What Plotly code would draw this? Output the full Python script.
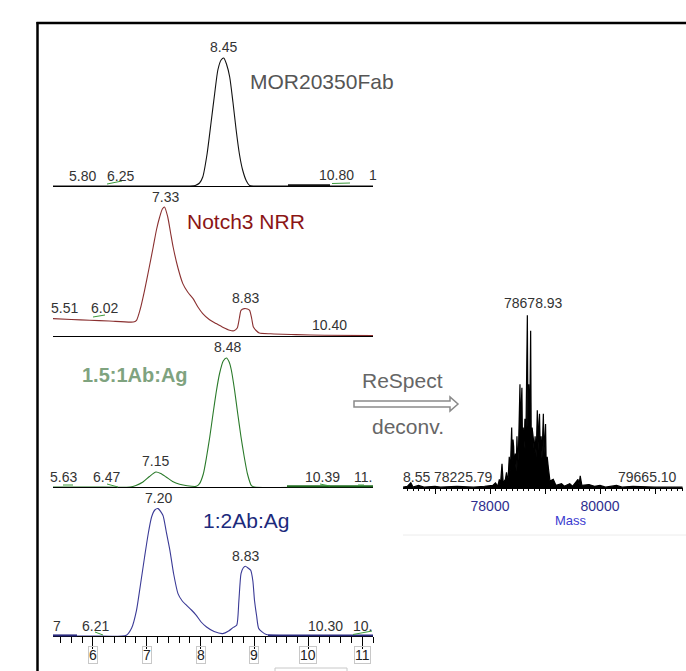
import plotly.graph_objects as go

W, H = 686, 671

def px(x):
    return x / W

def py(y):
    return 1 - y / H

# ---------------- data ----------------
# Retention time (min) and UV signal (arbitrary units) for each chromatogram
t_mor = [5.26, 6.0, 7.0, 7.80, 7.90, 7.98, 8.04, 8.12, 8.20, 8.26, 8.32, 8.38, 8.43, 8.48,
         8.54, 8.60, 8.66, 8.72, 8.78, 8.85, 8.91, 9.0, 10.0, 11.2]
a_mor = [0, 0, 0, 0, 0.5, 3, 9, 32, 66, 92, 116, 126, 128, 122,
         109, 84, 56, 32, 16, 5, 0.5, 0, 0, 0]

t_notch = [5.26, 5.6, 5.94, 6.3, 6.75, 6.81, 6.88, 6.96, 7.04, 7.12, 7.18, 7.24, 7.29, 7.33,
           7.39, 7.44, 7.49, 7.58, 7.67, 7.76, 7.86, 7.95, 8.04, 8.16, 8.29, 8.42, 8.54, 8.62,
           8.68, 8.72, 8.75, 8.81, 8.87, 8.91, 8.95, 8.98, 9.04, 9.09, 9.3, 9.77, 10.3, 11.2]
a_notch = [17.4, 16.5, 15.7, 15.0, 14, 15.7, 27, 45.7, 67, 89, 106, 119, 127, 129,
           119, 104, 89, 68, 52.4, 44, 37.4, 29, 22.4, 16.5, 12.4, 8.5, 5.7, 5.3,
           8, 18, 25.7, 27.4, 27, 25.7, 17, 9, 5, 3, 2.2, 1.4, 0.8, 0.4]

t_15 = [5.26, 6.0, 6.69, 6.80, 6.93, 7.05, 7.17, 7.26, 7.36, 7.48, 7.61, 7.75, 7.92, 7.98,
        8.05, 8.11, 8.17, 8.23, 8.29, 8.35, 8.42, 8.48, 8.53, 8.57, 8.63, 8.69, 8.75, 8.81,
        8.87, 8.94, 9.0, 10.0, 11.2]
a_15 = [0, 0, 0, 1.5, 5, 10.5, 15, 13.5, 10, 5.5, 2.7, 1.2, 0.7, 3.4,
        13, 30, 50, 73, 95, 113, 126, 129, 125, 117, 97, 73, 50, 30,
        13, 1.7, 0, 0, 0]

t_12 = [5.26, 6.0, 6.62, 6.72, 6.81, 6.88, 6.96, 7.03, 7.09, 7.15, 7.21, 7.30, 7.36, 7.43,
        7.50, 7.58, 7.66, 7.74, 7.83, 7.92, 8.01, 8.11, 8.25, 8.41, 8.52, 8.60, 8.67, 8.71,
        8.75, 8.79, 8.83, 8.88, 8.93, 8.97, 9.0, 9.04, 9.08, 9.22, 10.0, 11.2]
a_12 = [0, 0, 0.7, 8, 25.7, 50, 79, 103, 119, 126, 127.4, 120.7, 105, 85.7,
        62, 42.4, 35, 30.7, 26, 20.7, 14, 9, 4.5, 2.4, 5, 8.4, 10.7, 35,
        62.4, 68, 69.7, 68, 65.7, 55, 35.7, 20, 7.4, 1.4, 0.5, 0]

time_ticks = [6, 7, 8, 9, 10, 11]

# Deconvoluted mass spectrum (Da, relative intensity %)
mass = [76420, 76500, 76560, 76600, 76700, 76800, 77000, 77100, 77400, 77700, 77900,
        78050, 78100, 78140, 78170, 78190, 78218, 78240, 78280, 78300, 78320,
        78330, 78350, 78370, 78394, 78405, 78418, 78430, 78442, 78460, 78475, 78490,
        78505, 78520, 78545, 78555, 78565, 78580, 78592, 78605, 78620, 78635, 78650,
        78665, 78679, 78690, 78705, 78720, 78739, 78750, 78765, 78790, 78805, 78820,
        78840, 78860, 78875, 78890, 78900, 78915, 78930, 78945, 78960, 78970, 78982,
        78995, 79010, 79022, 79040, 79060, 79075, 79090, 79150, 79200, 79300,
        79350, 79450, 79500, 79600, 79620, 79640, 79670, 79800, 79900, 80000, 80100,
        80300, 80400, 80600, 81000, 81500]
intensity = [0.5, 1, 3, 0.5, 1.5, 0.5, 1, 0.5, 1, 0.5, 1,
             1.5, 3, 1, 5, 2, 14, 3, 5, 9, 4,
             6, 18, 10, 35, 15, 28, 24, 12, 20, 10, 30,
             12, 25, 60, 30, 45, 58, 20, 35, 23, 40, 22,
             50, 100, 35, 60, 30, 91, 25, 35, 28, 20, 30,
             18, 45, 22, 38, 43, 20, 30, 17, 28, 43, 20,
             30, 37, 12, 18, 12, 6, 4, 5, 1.5, 2.5,
             1, 2.5, 1, 5, 2, 7, 1.5, 2, 1, 1.5, 0.5,
             1.5, 0.5, 1, 0.5, 0.5]
mass_ticks = [77000, 78000, 79000, 80000, 81000]
mass_ticktext = ["", "78000", "", "80000", ""]

# ---------------- figure ----------------
fig = go.Figure()

panels = [
    (t_mor, a_mor, "#111111", 186, 46),
    (t_notch, a_notch, "#8a3030", 336, 196),
    (t_15, a_15, "#2a7a2a", 487, 347),
    (t_12, a_12, "#3a3a96", 636, 496),
]

for i, (t, a, col, ybot, ytop) in enumerate(panels, start=1):
    sx = "" if i == 1 else str(i)
    fig.add_trace(go.Scatter(x=t, y=a, mode="lines", xaxis="x" + sx, yaxis="y" + sx,
                             line=dict(color=col, width=1.1, shape="spline", smoothing=0.6),
                             hoverinfo="skip"))
    xa = dict(domain=[px(53), px(373)], range=[5.26, 11.2], anchor="y" + sx,
              showline=True, linecolor="black", linewidth=1, ticks="",
              showticklabels=False, showgrid=False, zeroline=False)
    if i == 4:
        xa.update(ticks="outside", tickmode="array", tickvals=time_ticks, ticklen=12,
                  tickcolor="black", tickwidth=1,
                  minor=dict(tickmode="linear", tick0=5.4, dtick=0.2, ticks="outside",
                             ticklen=6, tickcolor="black", tickwidth=1, showgrid=False))
    ya = dict(domain=[py(ybot), py(ytop)], range=[0, 140], visible=False, anchor="x" + sx)
    fig.update_layout(**{"xaxis" + sx: xa, "yaxis" + sx: ya})

# mass spectrum
fig.add_trace(go.Scatter(x=mass, y=intensity, mode="lines", xaxis="x5", yaxis="y5",
                         line=dict(color="black", width=1.2), fill="tozeroy",
                         fillcolor="black", hoverinfo="skip"))
fig.update_layout(
    xaxis5=dict(domain=[px(403), px(683)], range=[76418, 81509], anchor="y5",
                showline=True, linecolor="black", linewidth=1, ticks="outside",
                tickmode="array", tickvals=mass_ticks, ticktext=mass_ticktext,
                ticklen=5, tickcolor="black", showgrid=False, zeroline=False,
                tickfont=dict(family="Arial, Liberation Sans", size=14, color="#2e2e8e"),
                minor=dict(tickmode="linear", tick0=76500, dtick=100, ticks="outside",
                           ticklen=2, tickcolor="black", showgrid=False)),
    yaxis5=dict(domain=[py(488), py(310)], range=[0, 103], visible=False, anchor="x5"),
)

FONT = "Arial, Liberation Sans, sans-serif"
ann = []

def lab(text, x, y, size=14, color="#333333", xanchor="center", bold=False, **kw):
    d = dict(text=("<b>%s</b>" % text) if bold else text, x=px(x), y=py(y),
             xref="paper", yref="paper", showarrow=False, xanchor=xanchor, yanchor="middle",
             font=dict(family=FONT, size=size, color=color))
    d.update(kw)
    ann.append(d)

# panel 1
lab("5.80", 82, 176)
lab("6.25", 120, 176)
lab("8.45", 224, 47)
lab("10.80", 336, 175)
lab("1", 373, 175)
lab("MOR20350Fab", 248, 81, size=21, color="#555555", xanchor="left")
# panel 2
lab("7.33", 165, 197)
lab("5.51", 80, 308, xanchor="right")
lab("6.02", 104, 308)
lab("8.83", 245, 298)
lab("10.40", 329, 325)
lab("Notch3 NRR", 185, 221, size=21, color="#8b1515", xanchor="left")
# panel 3
lab("8.48", 227, 347)
lab("7.15", 155, 461)
lab("5.63", 79, 477, xanchor="right")
lab("6.47", 106, 477)
lab("10.39", 322, 477)
lab("11.", 352, 477, xanchor="left")
lab("1.5:1Ab:Ag", 135, 375, size=20, color="#7fa37f", bold=True)
# panel 4
lab("7.20", 158, 498)
lab("8.83", 245, 556)
lab("7", 57, 626)
lab("6.21", 95, 626)
lab("10.30", 325, 626)
lab("10.", 362, 626)
lab("1:2Ab:Ag", 246, 520, size=21, color="#1c2a7c")
# time axis labels in boxes
for tv in time_ticks:
    ann.append(dict(text=str(tv), x=tv, y=py(655), xref="x4", yref="paper",
                    showarrow=False, xanchor="center", yanchor="middle",
                    font=dict(family=FONT, size=14, color="#222222"),
                    bordercolor="#c8c8c8", borderwidth=1, borderpad=0))
# arrow texts
lab("ReSpect", 402, 380, size=21, color="#666666")
lab("deconv.", 408, 426, size=21, color="#666666")
# spectrum labels
lab("78678.93", 533, 303)
lab("78225.79", 464, 477)
lab("79665.10", 647, 477)
lab("8.55", 401, 477, xanchor="left")
lab("Mass", 571, 520, size=13, color="#3a3ad0")

fig.update_layout(annotations=ann)

def seg(x0, y0, x1, y1, color, width):
    return dict(type="line", x0=px(x0), x1=px(x1), y0=py(y0), y1=py(y1), xref="paper",
                yref="paper", line=dict(color=color, width=width))

# arrow shape
pts = [(354, 401), (450, 401), (450, 397), (458, 404), (450, 411), (450, 407), (354, 407)]
path = "M " + " L ".join("%.5f,%.5f" % (px(x), py(y)) for x, y in pts) + " Z"
G = "#3c9a3c"
shapes = [
    dict(type="path", path=path, xref="paper", yref="paper",
         line=dict(color="#8a8a8a", width=1.5), fillcolor="white"),
    seg(37.5, 22, 37.5, 672, "black", 2.5),
    seg(36.5, 23, 687, 23, "black", 2.5),
    seg(403, 535, 686, 535, "#ececec", 1),
    # partial "Time (min)" box at the bottom edge
    seg(275, 668, 347, 668, "#c8c8c8", 1),
    seg(275, 668, 275, 672, "#c8c8c8", 1),
    seg(347, 668, 347, 672, "#c8c8c8", 1),
    # integration baseline segments
    seg(288, 185.3, 330, 185.3, "#111111", 2),
    seg(287, 486.3, 373, 486.3, "#1f6a1f", 2),
    seg(53, 635.4, 77, 635.4, "#2a2a80", 2),
    seg(268, 635.4, 373, 635.4, "#2a2a80", 1.6),
    # integration marks (green)
    seg(107, 184, 122, 181, G, 1),
    seg(332, 183.5, 350, 183, G, 1),
    seg(93, 317, 105, 315, G, 1),
    seg(63, 485, 73, 485, G, 1),
    seg(107, 484, 118, 487, G, 1),
    seg(320, 484, 330, 486, G, 1),
    seg(358, 485, 364, 485, G, 1),
    seg(95, 632, 103, 635, G, 1),
    seg(353, 634.5, 372, 631, G, 1),
]
fig.update_layout(shapes=shapes)

fig.update_layout(width=W, height=H, margin=dict(l=0, r=0, t=0, b=0),
                  paper_bgcolor="white", plot_bgcolor="rgba(0,0,0,0)", showlegend=False)

fig.write_html("out.html")
